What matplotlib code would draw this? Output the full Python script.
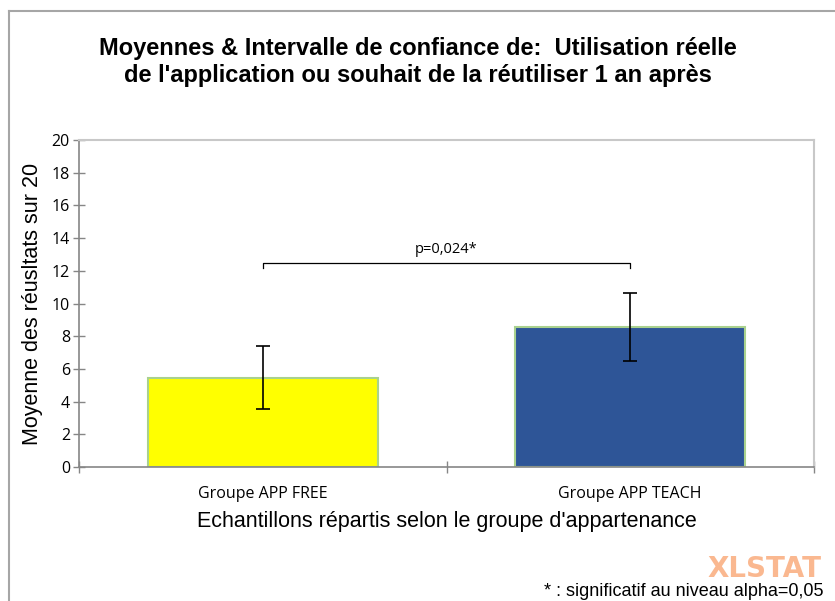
import matplotlib
matplotlib.use('Agg')
import matplotlib.pyplot as plt
from matplotlib.lines import Line2D

plt.rcParams['font.family'] = ['Liberation Sans', 'DejaVu Sans']

groups = ['Groupe APP FREE', 'Groupe APP TEACH']
means = [5.47, 8.57]
ci_low = [3.52, 6.51]
ci_high = [7.42, 10.64]
bar_colors = ['#FFFF00', '#2E5597']
p_label = 'p=0,024*'
yticks = [0, 2, 4, 6, 8, 10, 12, 14, 16, 18, 20]

fig = plt.figure(figsize=(8.35, 6.01), dpi=100)
fig.patch.set_facecolor('white')

W, H = 835, 601
ax = fig.add_axes([79 / W, 1 - 467 / H, (814 - 79) / W, (467 - 140) / H])

x = list(range(len(groups)))
err_lo = [m - l for m, l in zip(means, ci_low)]
err_hi = [h - m for m, h in zip(means, ci_high)]
ax.bar(x, means, width=0.625, color=bar_colors, edgecolor='#A9D18E', linewidth=1.5, zorder=2)
ax.errorbar(x, means, yerr=[err_lo, err_hi], fmt='none', ecolor='black',
            elinewidth=1.2, capsize=5, capthick=1.2, zorder=3)

# significance bracket
yb = max(ci_high) + 1.85
ax.plot([x[0], x[0], x[1], x[1]], [yb - 0.3, yb, yb, yb - 0.3], color='black', lw=0.9, zorder=3)
ax.text((x[0] + x[1]) / 2, yb + 0.35, p_label, ha='center', va='bottom', fontsize=10.5,
        family=['Open Sans', 'DejaVu Sans'])

ax.set_xlim(-0.5, 1.5)
ax.set_ylim(0, 20)
ax.set_yticks(yticks)
ax.set_yticklabels([str(t) for t in yticks], family=['Open Sans', 'DejaVu Sans'], fontsize=11.5)
ax.tick_params(axis='y', direction='inout', length=9, width=1, color='#868686', pad=2)

ax.set_xticks(x)
ax.set_xticklabels(groups, family=['Open Sans', 'DejaVu Sans'], fontsize=11.5)
ax.tick_params(axis='x', which='major', length=0, pad=14)
ax.set_xticks([-0.5, 0.5, 1.5], minor=True)
ax.tick_params(axis='x', which='minor', direction='inout', length=9, width=1, color='#868686')

for s in ['left', 'bottom']:
    ax.spines[s].set_color('#868686')
    ax.spines[s].set_linewidth(1.2)
for s in ['top', 'right']:
    ax.spines[s].set_color('#C8C8C8')
    ax.spines[s].set_linewidth(1.5)

ax.set_ylabel('Moyenne des réusltats sur 20', fontsize=15.5, labelpad=6)
ax.set_xlabel("Echantillons répartis selon le groupe d'appartenance", fontsize=15.5, labelpad=6)

fig.text(0.5, 1 - 62 / H, "Moyennes & Intervalle de confiance de:  Utilisation réelle\n"
         "de l'application ou souhait de la réutiliser 1 an après",
         ha='center', va='center', fontsize=17, fontweight='bold', linespacing=1.2)

# watermark and footnote
fig.text(707 / W, 1 - 569 / H, 'XLSTAT', ha='left', va='center', fontsize=20,
         fontweight='bold', color='#FAB890', family=['DejaVu Sans'], zorder=0)
fig.text(823 / W, 1 - 591 / H, '* : significatif au niveau alpha=0,05', ha='right',
         va='center', fontsize=13)

# chart area frame (cut by the image edges)
fig.add_artist(Line2D([8.5 / W, 8.5 / W], [0, 1 - 11 / H], color='#A6A6A6', lw=1.5))
fig.add_artist(Line2D([8.5 / W, 1], [1 - 11 / H, 1 - 11 / H], color='#A6A6A6', lw=1.5))

plt.savefig('out.png', dpi=100, facecolor='white')
